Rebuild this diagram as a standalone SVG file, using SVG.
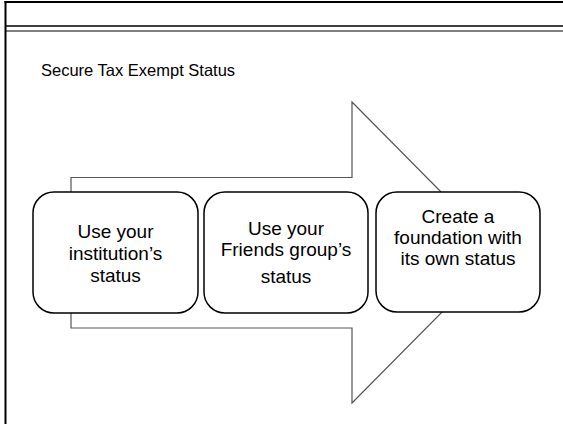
<svg xmlns="http://www.w3.org/2000/svg" width="563" height="424" viewBox="0 0 563 424">
<style>
.frame{stroke:#000;fill:none}
.box{fill:#fff;stroke:#000;stroke-width:1.5}
.arrow{fill:#fff;stroke:#555;stroke-width:1.2}
.lbl{font-family:"Liberation Sans",Arial,sans-serif;font-size:19px;fill:#000;text-anchor:middle}
.title{font-family:"Liberation Sans",Arial,sans-serif;font-size:16.5px;fill:#000}
</style>
<rect width="563" height="424" fill="#fff"/>
<g id="frame">
<line class="frame" x1="4.5" y1="2" x2="563" y2="2" stroke-width="2"/>
<line class="frame" x1="5.5" y1="1" x2="5.5" y2="424" stroke-width="2"/>
<line class="frame" x1="5" y1="26" x2="563" y2="26" stroke-width="1.5"/>
<line class="frame" x1="5" y1="31" x2="563" y2="31" stroke-width="1"/>
</g>
<text class="title" x="41" y="76">Secure Tax Exempt Status</text>
<g id="connectors">
<path class="arrow" d="M71,177.5 H352 V102 L501,252.5 L352,403 V328 H71 Z"/>
</g>
<g id="node1">
<rect class="box" x="33" y="192" width="165" height="121" rx="21"/>
<text class="lbl" x="115.5" y="238">Use your</text>
<text class="lbl" x="115.5" y="260">institution’s</text>
<text class="lbl" x="115.5" y="282">status</text>
</g>
<g id="node2">
<rect class="box" x="204" y="192" width="164" height="121" rx="21"/>
<text class="lbl" x="286" y="235">Use your</text>
<text class="lbl" x="286" y="256">Friends group’s</text>
<text class="lbl" x="286" y="283">status</text>
</g>
<g id="node3">
<rect class="box" x="376" y="192" width="164" height="120" rx="21"/>
<text class="lbl" x="458" y="223">Create a</text>
<text class="lbl" x="458" y="244">foundation with</text>
<text class="lbl" x="458" y="265">its own status</text>
</g>
</svg>
